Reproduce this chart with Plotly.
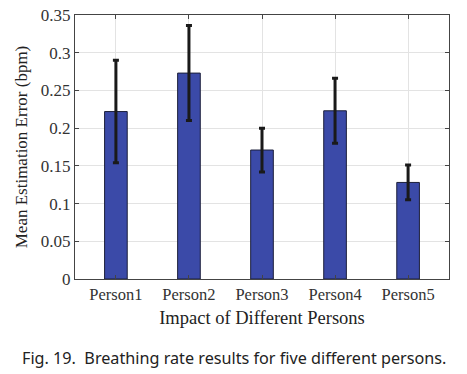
import plotly.graph_objects as go

categories = ["Person1", "Person2", "Person3", "Person4", "Person5"]
mean_error = [0.222, 0.273, 0.171, 0.223, 0.128]
err_plus = [0.068, 0.063, 0.029, 0.043, 0.023]
err_minus = [0.068, 0.063, 0.029, 0.043, 0.023]
y_ticks = [0, 0.05, 0.1, 0.15, 0.2, 0.25, 0.3, 0.35]
y_tick_text = ["0", "0.05", "0.1", "0.15", "0.2", "0.25", "0.3", "0.35"]

serif = "Liberation Serif, Times New Roman, serif"

fig = go.Figure()
fig.add_trace(go.Bar(
    x=categories, y=mean_error, width=0.31,
    marker=dict(color="#3b4aa8", line=dict(color="#1c1f3a", width=1)),
    error_y=dict(type="data", symmetric=False, array=err_plus, arrayminus=err_minus,
                 color="#1a1a1a", thickness=3, width=3),
))

fig.update_layout(
    width=467, height=374,
    margin=dict(l=75, r=18, t=15, b=95),
    plot_bgcolor="white", paper_bgcolor="white",
    showlegend=False,
    font=dict(family=serif, size=16.5, color="#333333"),
    xaxis=dict(
        range=[-0.56, 4.56], showgrid=True, gridcolor="#e3e3e3", gridwidth=1,
        showline=True, linecolor="#444444", linewidth=1, mirror="ticks",
        ticks="inside", ticklen=4, tickcolor="#444444",
        tickfont=dict(family=serif, size=16.5, color="#333333"),
        title=dict(text="Impact of Different Persons", font=dict(family=serif, size=18.5, color="#222222"), standoff=8),
        automargin=False,
    ),
    yaxis=dict(
        range=[0, 0.35], tickvals=y_ticks, ticktext=y_tick_text,
        showgrid=True, gridcolor="#e3e3e3", gridwidth=1,
        showline=True, linecolor="#444444", linewidth=1, mirror="ticks",
        ticks="inside", ticklen=4, tickcolor="#444444",
        tickfont=dict(family=serif, size=17, color="#333333"),
        title=dict(text="Mean Estimation Error (bpm)", font=dict(family=serif, size=17, color="#222222"), standoff=8),
        zeroline=False, automargin=False,
    ),
)

fig.add_annotation(
    text="Fig. 19.  Breathing rate results for five different persons.",
    xref="paper", yref="paper", x=0, y=0, yshift=-79, xshift=-55,
    showarrow=False, xanchor="left", yanchor="middle",
    font=dict(family="Noto Sans, DejaVu Sans, sans-serif", size=16.2, color="#222222"),
)

fig.write_html("out.html", config={"displayModeBar": False})

# remove the browser's default page margin so the figure sits at the window origin
with open("out.html", "r", encoding="utf-8") as f:
    html = f.read()
html = html.replace("<body>", '<body style="margin:0;overflow:hidden">', 1)
with open("out.html", "w", encoding="utf-8") as f:
    f.write(html)
